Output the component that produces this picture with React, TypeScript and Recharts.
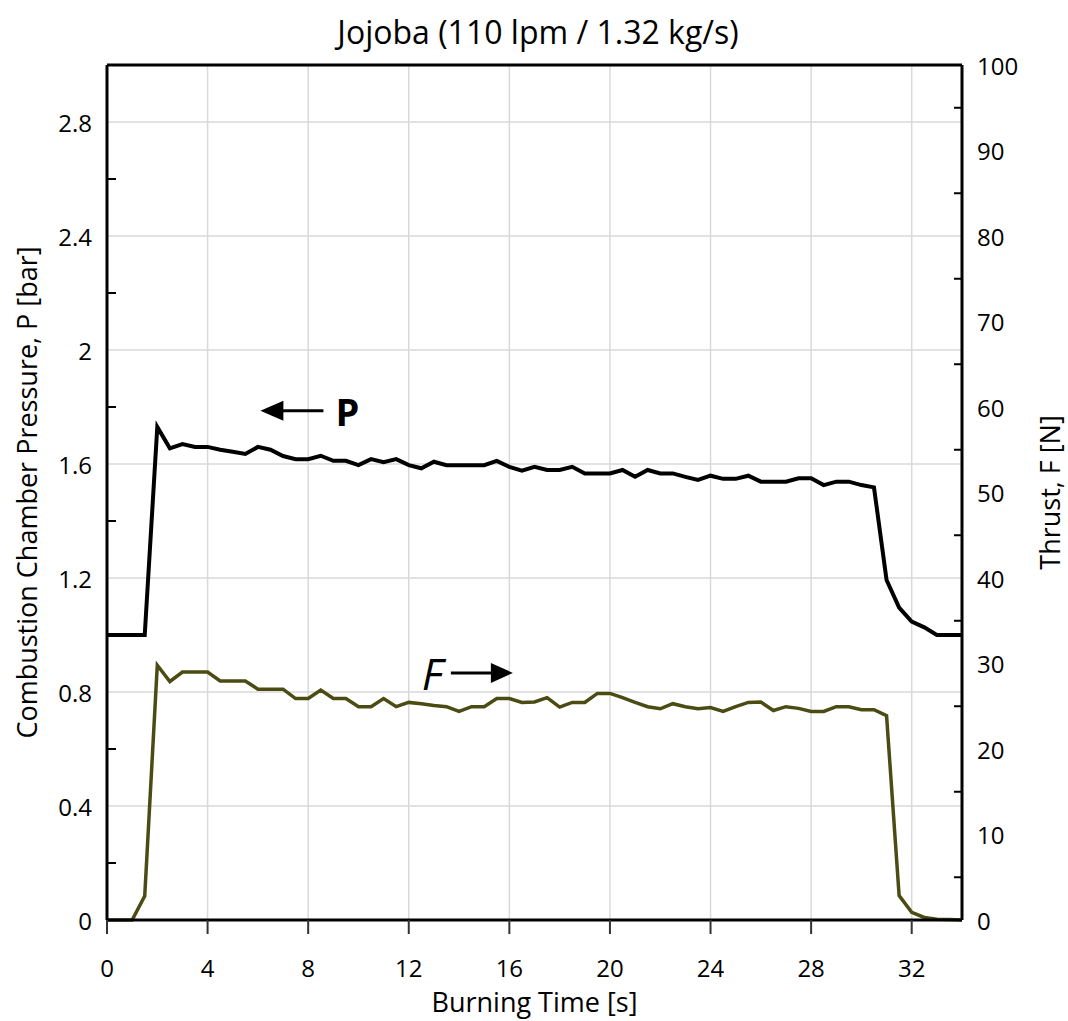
import { LineChart, Line, XAxis, YAxis, CartesianGrid, ReferenceLine, ReferenceDot } from 'recharts';

const FONT = '"Open Sans", sans-serif';

// burning time [s]
const time = [
  0, 0.5, 1, 1.5, 2, 2.5, 3, 3.5, 4, 4.5, 5, 5.5, 6, 6.5, 7, 7.5, 8, 8.5, 9, 9.5,
  10, 10.5, 11, 11.5, 12, 12.5, 13, 13.5, 14, 14.5, 15, 15.5, 16, 16.5, 17, 17.5,
  18, 18.5, 19, 19.5, 20, 20.5, 21, 21.5, 22, 22.5, 23, 23.5, 24, 24.5, 25, 25.5,
  26, 26.5, 27, 27.5, 28, 28.5, 29, 29.5, 30, 30.5, 31, 31.5, 32, 32.5, 33, 33.5, 34,
];

// combustion chamber pressure [bar]
const pressure = [
  1.0, 1.0, 1.0, 1.0, 1.73, 1.655, 1.67, 1.66, 1.66, 1.65, 1.643, 1.635, 1.66, 1.65,
  1.628, 1.617, 1.617, 1.629, 1.611, 1.611, 1.596, 1.617, 1.606, 1.617, 1.596, 1.585,
  1.608, 1.596, 1.596, 1.596, 1.596, 1.611, 1.59, 1.577, 1.59, 1.579, 1.579, 1.59,
  1.567, 1.567, 1.567, 1.579, 1.555, 1.579, 1.567, 1.567, 1.555, 1.544, 1.559, 1.548,
  1.548, 1.559, 1.538, 1.538, 1.538, 1.55, 1.55, 1.526, 1.538, 1.538, 1.526, 1.518,
  1.193, 1.096, 1.047, 1.027, 1.0, 1.0, 1.0,
];

// thrust [N]
const thrust = [
  0, 0, 0, 2.8, 29.8, 27.9, 29.0, 29.0, 29.0, 27.95, 27.95, 27.95, 27.0, 27.0, 27.0,
  25.9, 25.9, 26.9, 25.9, 25.9, 24.95, 24.95, 25.9, 24.95, 25.45, 25.3, 25.1, 24.95,
  24.4, 24.95, 24.95, 25.9, 25.9, 25.45, 25.5, 26.0, 24.9, 25.45, 25.45, 26.5, 26.5,
  26.0, 25.45, 24.95, 24.7, 25.3, 24.95, 24.7, 24.85, 24.4, 24.95, 25.45, 25.5, 24.5,
  24.95, 24.75, 24.4, 24.4, 24.95, 24.95, 24.6, 24.6, 23.9, 2.85, 0.9, 0.3, 0.1, 0.05, 0,
];

const xTicks = [0, 4, 8, 12, 16, 20, 24, 28, 32];
const leftTicks = [0, 0.2, 0.4, 0.6, 0.8, 1, 1.2, 1.4, 1.6, 1.8, 2, 2.2, 2.4, 2.6, 2.8];
const leftLabeled = [0, 0.4, 0.8, 1.2, 1.6, 2, 2.4, 2.8];
const rightTicks = [0, 5, 10, 15, 20, 25, 30, 35, 40, 45, 50, 55, 60, 65, 70, 75, 80, 85, 90, 95, 100];
const rightLabeled = [0, 10, 20, 30, 40, 50, 60, 70, 80, 90, 100];

const data = time.map((t, i) => ({ t, p: pressure[i], f: thrust[i] }));

const LeftTick = (props: any) => {
  const { x, y, payload } = props;
  if (leftLabeled.includes(payload.value)) {
    return (
      <text x={x} y={y} textAnchor="end" dominantBaseline="central" fontFamily={FONT} fontSize={24} fill="#000">
        {payload.value}
      </text>
    );
  }
  return <line x1={x + 15} x2={x + 24} y1={y} y2={y} stroke="#000" strokeWidth={2} />;
};

const RightTick = (props: any) => {
  const { x, y, payload } = props;
  if (rightLabeled.includes(payload.value)) {
    return (
      <text x={x} y={y} textAnchor="start" dominantBaseline="central" fontFamily={FONT} fontSize={24} fill="#000">
        {payload.value}
      </text>
    );
  }
  return <line x1={x - 15} x2={x - 23} y1={y} y2={y} stroke="#000" strokeWidth={2} />;
};

const PArrow = ({ cx, cy }: any) => (
  <g>
    <polygon points={`${cx},${cy} ${cx + 23},${cy - 10} ${cx + 23},${cy + 10}`} fill="#000" />
    <line x1={cx + 20} x2={cx + 63} y1={cy} y2={cy} stroke="#000" strokeWidth={3} />
    <text x={cx + 75} y={cy} dominantBaseline="central" fontFamily={FONT} fontWeight="bold" fontSize={38} fill="#000">
      P
    </text>
  </g>
);

const FArrow = ({ cx, cy }: any) => (
  <g>
    <polygon points={`${cx},${cy} ${cx - 22},${cy - 10} ${cx - 22},${cy + 10}`} fill="#000" />
    <line x1={cx - 62} x2={cx - 19} y1={cy} y2={cy} stroke="#000" strokeWidth={3} />
    <text x={cx - 70} y={cy} textAnchor="end" dominantBaseline="central" fontFamily={FONT} fontStyle="italic" fontSize={44} fill="#000">
      F
    </text>
  </g>
);

export default function App() {
  return (
    <div style={{ position: 'absolute', left: 0, top: 0, width: 1068, height: 1021, background: '#fff' }}>
      <div
        style={{
          position: 'absolute',
          left: 4,
          top: 12,
          width: 1068,
          textAlign: 'center',
          fontFamily: FONT,
          fontSize: 32,
          lineHeight: '40px',
          color: '#000',
        }}
      >
        Jojoba (110 lpm / 1.32 kg/s)
      </div>
      <LineChart width={1068} height={1021} data={data} margin={{ top: 65, right: 6, bottom: 0, left: 7 }}>
        <CartesianGrid
          yAxisId="left"
          stroke="#d9d9d9"
          strokeWidth={1.5}
          horizontalValues={[0.4, 0.8, 1.2, 1.6, 2, 2.4, 2.8]}
          verticalValues={[4, 8, 12, 16, 20, 24, 28, 32]}
        />
        <XAxis
          dataKey="t"
          type="number"
          domain={[0, 34]}
          ticks={xTicks}
          interval={0}
          height={101}
          tickSize={14}
          tickMargin={26}
          axisLine={{ stroke: '#000', strokeWidth: 3 }}
          tickLine={{ stroke: '#333', strokeWidth: 2 }}
          tick={{ fill: '#000', fontSize: 24, fontFamily: FONT }}
          label={{ value: 'Burning Time [s]', position: 'insideBottom', offset: 9, fill: '#000', fontSize: 27, fontFamily: FONT }}
        />
        <YAxis
          yAxisId="left"
          orientation="left"
          domain={[0, 3]}
          ticks={leftTicks}
          interval={0}
          width={100}
          tickSize={0}
          tickMargin={15}
          tickLine={false}
          axisLine={{ stroke: '#000', strokeWidth: 3 }}
          tick={<LeftTick />}
          label={{
            value: 'Combustion Chamber Pressure, P [bar]',
            angle: -90,
            position: 'insideLeft',
            offset: 20,
            fill: '#000',
            fontSize: 27,
            fontFamily: FONT,
            style: { textAnchor: 'middle' },
          }}
        />
        <YAxis
          yAxisId="right"
          orientation="right"
          domain={[0, 100]}
          ticks={rightTicks}
          interval={0}
          width={100}
          tickSize={0}
          tickMargin={15}
          tickLine={false}
          axisLine={{ stroke: '#000', strokeWidth: 3 }}
          tick={<RightTick />}
          label={{
            value: 'Thrust, F [N]',
            angle: -90,
            position: 'insideRight',
            offset: 12,
            fill: '#000',
            fontSize: 27,
            fontFamily: FONT,
            style: { textAnchor: 'middle' },
          }}
        />
        <ReferenceLine yAxisId="left" y={3} stroke="#000" strokeWidth={3} />
        <Line
          yAxisId="right"
          dataKey="f"
          type="linear"
          stroke="#4b4b14"
          strokeWidth={3.5}
          dot={false}
          isAnimationActive={false}
        />
        <Line
          yAxisId="left"
          dataKey="p"
          type="linear"
          stroke="#000"
          strokeWidth={4}
          dot={false}
          isAnimationActive={false}
        />
        <ReferenceDot yAxisId="left" x={6.1} y={1.787} shape={(p: any) => <PArrow {...p} />} />
        <ReferenceDot yAxisId="right" x={16.14} y={28.9} shape={(p: any) => <FArrow {...p} />} />
      </LineChart>
    </div>
  );
}
